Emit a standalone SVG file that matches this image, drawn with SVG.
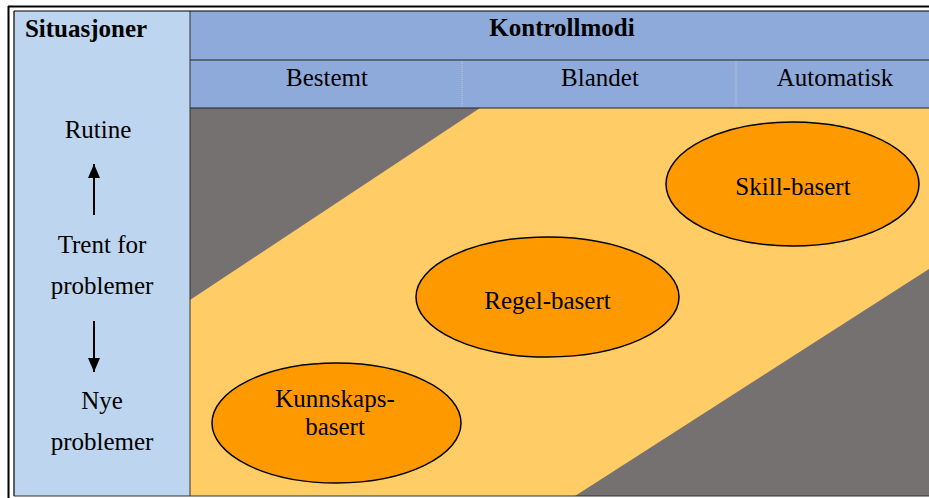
<svg xmlns="http://www.w3.org/2000/svg" width="929" height="498" viewBox="0 0 929 498" font-family="'Liberation Serif', 'Times New Roman', Tinos, 'DejaVu Serif', serif">
<defs>
<style>
text{font-size:25px;fill:#000;text-anchor:middle}
.b{font-weight:bold}
.node ellipse{fill:#FF9900;stroke:#000;stroke-width:1.5}
.conn line{stroke:#000;stroke-width:2}
</style>
<marker id="ah" markerWidth="14" markerHeight="12" refX="14" refY="6" orient="auto" markerUnits="userSpaceOnUse" viewBox="0 0 14 12">
<path d="M0,0 L14,6 L0,12 Z" fill="#000"/>
</marker>
</defs>
<rect x="0" y="0" width="929" height="498" fill="#fff"/>
<!-- body -->
<rect x="190" y="108" width="739" height="388" fill="#FFCC66"/>
<polygon points="190,108 480,108 190,300" fill="#767171"/>
<polygon points="929,269 929,496 575,496" fill="#767171"/>
<!-- left column -->
<rect x="14" y="11" width="176" height="485" fill="#BDD5EE"/>
<!-- header -->
<rect x="190" y="11" width="739" height="97" fill="#8EAADB"/>
<line x1="190" y1="60" x2="929" y2="60" stroke="#222" stroke-width="1"/>
<line x1="190" y1="108" x2="929" y2="108" stroke="#222" stroke-width="1"/>
<line x1="462" y1="61" x2="462" y2="107" stroke="#c8c8c8" stroke-width="1" stroke-dasharray="1,1"/>
<line x1="736" y1="61" x2="736" y2="107" stroke="#c8c8c8" stroke-width="1" stroke-dasharray="1,1"/>
<line x1="190" y1="11" x2="190" y2="496" stroke="#333" stroke-width="1"/>
<!-- frame -->
<line x1="8" y1="6.5" x2="929" y2="6.5" stroke="#000" stroke-width="2"/>
<line x1="8.5" y1="6" x2="8.5" y2="498" stroke="#000" stroke-width="2"/>
<line x1="14" y1="11" x2="929" y2="11" stroke="#000" stroke-width="1.2"/>
<line x1="14" y1="11" x2="14" y2="496" stroke="#000" stroke-width="1.2"/>
<line x1="14" y1="496" x2="929" y2="496" stroke="#333" stroke-width="1.2"/>
<!-- header texts -->
<text class="b" x="86" y="37">Situasjoner</text>
<text class="b" x="562" y="36">Kontrollmodi</text>
<text x="327" y="86">Bestemt</text>
<text x="600" y="86">Blandet</text>
<text x="835" y="86">Automatisk</text>
<!-- left column texts -->
<text x="98" y="138">Rutine</text>
<text x="102" y="253">Trent for</text>
<text x="102" y="294">problemer</text>
<text x="102" y="409">Nye</text>
<text x="102" y="450">problemer</text>
<g id="connectors" class="conn">
<line x1="94" y1="215" x2="94" y2="164" marker-end="url(#ah)"/>
<line x1="94" y1="321" x2="94" y2="372" marker-end="url(#ah)"/>
</g>
<g id="skill" class="node">
<ellipse cx="792.5" cy="184" rx="126.5" ry="62"/>
<text x="793" y="195">Skill-basert</text>
</g>
<g id="regel" class="node">
<ellipse cx="547.5" cy="297" rx="131.5" ry="60"/>
<text x="547.5" y="309">Regel-basert</text>
</g>
<g id="kunnskap" class="node">
<ellipse cx="336.5" cy="423" rx="124.5" ry="60"/>
<text x="335" y="407">Kunnskaps-</text>
<text x="335" y="435">basert</text>
</g>
</svg>
